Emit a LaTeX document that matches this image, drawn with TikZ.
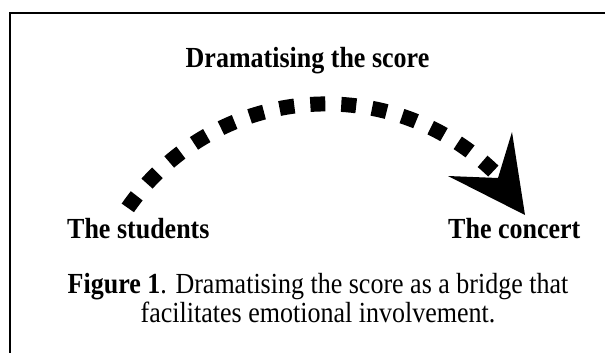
\documentclass[tikz,border=0pt]{standalone}
\usepackage{fontspec}
\setmainfont{Liberation Serif}
\usetikzlibrary{positioning,calc}
\newcommand{\tallText}[1]{\scalebox{1}[1.12]{#1}}
\tikzset{
  base/.style={font=\fontsize{26}{25}\selectfont, text=black, inner sep=0pt},
  label/.style={base, font=\bfseries\fontsize{26}{25}\selectfont},
  caption/.style={base},
  frame/.style={line width=2pt, draw=black},
  bridge/.style={line width=15pt, dash pattern=on 15pt off 16pt, line cap=butt},
  head/.style={fill=black},
}

\begin{document}
\begin{tikzpicture}[x=1pt,y=-1pt]
  \useasboundingbox (0,0) rectangle (605,353);
  \draw[frame] (10,353) -- (10,13) -- (605,13);

  \node[label,anchor=base] (title) at (307.5,67) {\tallText{Dramatising the score}};
  \node[label,anchor=base west] (students) at (67,238) {\tallText{The students}};
  \node[label,anchor=base west] (concert) at (448,238) {\tallText{The concert}};

  % dotted bridge from the students to the concert
  \coordinate (bridgeStart) at (127.8,207.9);
  \coordinate (tipEnd) at (525,215);
  \draw[bridge] (bridgeStart) arc[start angle=145.3, end angle=46.2, radius=241.4pt];
  \fill[head] (448,176) -- (498,178) -- (512,132) -- (tipEnd) -- cycle;

  \node[caption] (fig) at (318,302) {\tallText{\begin{tabular}{@{}c@{}}\textbf{Figure 1}. Dramatising the score as a bridge that\\facilitates emotional involvement.\end{tabular}}};
\end{tikzpicture}
\end{document}
